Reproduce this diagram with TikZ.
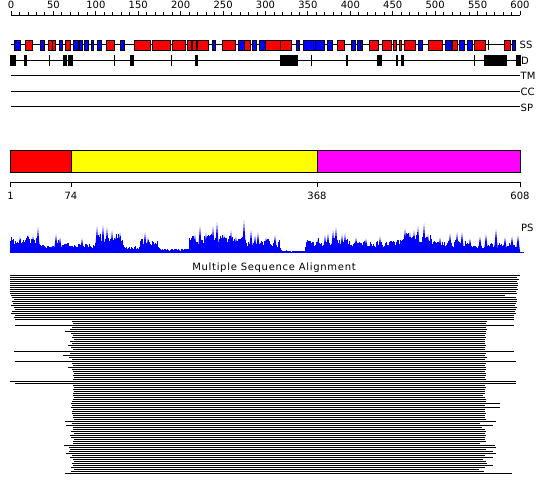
\documentclass[tikz,border=0pt]{standalone}
\usepackage{fontspec}
\setmainfont{DejaVu Sans}
\newfontfamily\msafont[LetterSpace=7]{DejaVu Sans}
\definecolor{cr}{RGB}{255,0,0}
\definecolor{cb}{RGB}{0,0,255}
\definecolor{cy}{RGB}{255,255,0}
\definecolor{cm}{RGB}{255,0,255}
\begin{document}
\begin{tikzpicture}[x=1pt,y=-1pt,
  lbl/.style={font=\fontsize{10}{12}\selectfont, inner sep=0pt},
  trk/.style={line width=0.9pt},
  sbox/.style={line width=0.8pt, draw=black},
  aln/.style={line width=1pt}]
\useasboundingbox (0,0) rectangle (550,495);
\fill[white] (0,0) rectangle (550,495);

% ---------- ruler ----------
\draw[trk] (11,15.5) -- (520,15.5);
\foreach \k in {0,...,60}{
  \pgfmathsetmacro{\xx}{11+\k*8.48333}
  \pgfmathtruncatemacro{\m}{mod(\k,5)}
  \pgfmathtruncatemacro{\v}{\k*10}
  \ifnum\m=0
    \draw[trk] (\xx,15.5) -- (\xx,11);
    \node[lbl,anchor=base] (rul\k) at (\xx,9) {\v};
  \else
    \draw[trk] (\xx,15.5) -- (\xx,12.5);
  \fi
}

% ---------- SS track ----------
\draw[trk] (11,44.5) -- (515,44.5);
\foreach \a/\b/\c in {14.3/20.7/cb, 25.7/32.3/cr, 40/44.3/cb, 48.3/52/cr, 52/55.7/cr,
  59/62.7/cb, 65.3/70.7/cr, 73.3/78/cb, 79/82.7/cb, 84.3/88.7/cb, 91/93.7/cb,
  97/101.7/cb, 106.7/114.7/cr, 120.3/124.7/cb, 134.3/150.3/cr, 152.3/170.7/cr,
  172.3/185.7/cr, 187.3/191/cr, 192.3/196/cr, 197.3/208.3/cr, 212.3/215.7/cb,
  222.3/235.7/cr, 238.3/244.3/cb, 244.3/250.7/cr, 252.3/256.7/cb, 259/265/cb,
  265/280/cr, 280/291/cr, 296.7/299.3/cb, 303.3/315/cb, 315/324.3/cb,
  327.3/332.3/cb, 337.7/344.3/cr, 351.7/355/cb, 357.7/362.3/cb, 369.7/378.3/cr,
  382.3/391/cr, 393.3/396.7/cr, 399/401/cr, 404.3/415/cr, 418.3/422.7/cb,
  428.3/442.3/cr, 445/451/cb, 452.3/457.3/cr, 459.3/464.3/cb, 467.7/472.3/cb,
  474.3/485.7/cr, 504/510.7/cr, 512.3/515/cb}{
  \draw[sbox, fill=\c] (\a,40) rectangle (\b,50);
}
\draw[trk] (360,40) -- (360,50);
\draw[trk] (488.7,40) -- (488.7,50);
\node[lbl,anchor=base west] (ss) at (519.5,48.5) {SS};

% ---------- D track ----------
\draw[trk] (10,60.5) -- (520,60.5);
\foreach \a/\b in {10/15.7, 24/26.7, 63/66.7, 68.3/72.7, 130/134.3, 195/198,
  280/297.7, 346/348.3, 376.7/381.7, 396/397.7, 400.7/404.3, 484.3/507.3, 515.7/520.7}{
  \fill[black] (\a,55) rectangle (\b,66);
}
\foreach \a in {49.8, 114.5, 171.8, 311, 474.3}{
  \draw[trk] (\a,55) -- (\a,66);
}
\node[lbl,anchor=base west] (dd) at (521,64.5) {D};

% ---------- TM CC SP ----------
\draw[trk] (10.5,75.5) -- (520,75.5);
\node[lbl,anchor=base west] (tm) at (520.5,80) {TM};
\draw[trk] (10.5,91.5) -- (520,91.5);
\node[lbl,anchor=base west] (cc) at (520.5,95.7) {CC};
\draw[trk] (10.5,106.5) -- (520,106.5);
\node[lbl,anchor=base west] (sp) at (520.5,111.5) {SP};

% ---------- domains ----------
\draw[sbox, fill=cr] (10.5,150.5) rectangle (71,172);
\draw[sbox, fill=cy] (71,150.5) rectangle (317,172);
\draw[sbox, fill=cm] (317,150.5) rectangle (520,172);
\draw[trk] (10.5,182.5) -- (520,182.5);
\foreach \x/\t/\n in {10.5/1/d1, 71/74/d2, 317/368/d3, 520/608/d4}{
  \draw[trk] (\x,182.5) -- (\x,187.5);
  \node[lbl,anchor=base] (\n) at (\x,200) {\t};
}

% ---------- PS profile ----------
\pgfmathsetseed{11}
\xdef\prevh{8}
\foreach \a/\b/\base/\amp in {10/38/6/12, 38/40/8/8, 40/56/4/6, 56/60/7/8, 60/95/4/7,
  95/123/8/14, 123/140/2/5, 140/158/6/9, 158/189/1.5/3, 189/245/7/13, 245/280/5/10,
  280/305/0.5/2, 305/350/5/12, 350/400/5/8, 400/431/8/14, 431/466/5/9, 466/519/4/7}{
  \pgfmathtruncatemacro{\bb}{\b-1}
  \foreach \x in {\a,...,\bb}{
    \pgfmathsetmacro{\h}{0.35*\prevh+0.65*(\base+\amp*rnd)}
    \xdef\prevh{\h}
    \fill[cb] (\x,252.5) rectangle ({\x+1.1},{252.5-\h});
  }
}
\foreach \x/\h in {38/25, 56/18, 97/26, 103/27, 107/25, 112/22, 120/20, 145/20,
  200/26, 213/26, 217/30, 244/32, 251/22, 258/20, 275/17, 328/19, 333/22, 336/25,
  345/19, 405/24, 418/26, 424/29, 457/20, 462/20, 496/23, 518/17,
  20/16, 28/18, 33/17, 60/15, 82/14, 100/20, 116/17, 148/15, 195/18, 206/20, 224/18,
  231/22, 236/16, 255/17, 266/15, 318/14, 325/17, 342/18, 356/15, 366/14, 380/16,
  410/20, 414/22, 428/18, 440/15, 450/19, 470/14, 480/16, 486/18, 505/15, 512/16}{
  \fill[cb] ({\x-2.2},252.5) -- (\x,{252.5-\h}) -- ({\x+2.2},252.5) -- cycle;
}
\draw[cb, line width=1pt] (10,252) -- (524,252);
\node[lbl,anchor=base west] (ps) at (521,231.5) {PS};

% ---------- alignment ----------
\node[lbl,anchor=base,font=\msafont\fontsize{10}{12}\selectfont] (msa) at (274,270) {Multiple Sequence Alignment};
\foreach \y/\s/\e in {
  275/10/520, 277/10/517, 279/10/519, 281/10/517, 283/10/518, 285/10/518, 287/10/517,
  289/10/518, 291/10/516, 293/10/517, 295/11/505, 297/12/516, 299/14/517, 301/12/517,
  303/13/516, 305/11/515, 307/14/517, 309/15/516, 311/12/515, 313/11/516, 315/15/514,
  317/14/514, 319/15/514, 321/72/487, 323/73/486, 325/15/514, 327/72/486, 329/70/487,
  331/65/486, 333/71/486, 335/73/485, 337/72/486, 339/74/485, 341/70/485, 343/72/485,
  345/68/486, 347/71/485, 349/73/485, 351/14/514, 353/70/486, 355/63/485, 357/69/487,
  359/72/485, 361/15/516, 363/72/486, 365/73/485, 367/68/486, 369/72/486, 371/73/485,
  373/74/486, 375/73/486, 377/74/485, 379/73/486, 381/10/516, 383/15/516, 385/73/485,
  387/74/486, 389/73/485, 391/74/485, 393/73/485, 395/73/483, 397/74/485, 399/73/486,
  401/72/486, 403/71/500, 405/72/485, 407/71/500, 409/73/485, 411/72/485, 413/72/486,
  415/73/485, 417/73/485, 419/74/486, 421/65/496, 423/72/480, 425/66/493, 427/73/482,
  429/73/485, 431/71/486, 433/74/485, 435/70/486, 437/71/485, 439/74/485, 441/73/486,
  443/73/480, 445/64/495, 447/69/496, 449/70/486, 451/69/493, 453/66/496, 455/72/485,
  457/70/493, 459/73/483, 461/74/486, 463/72/487, 465/73/493, 467/71/485, 469/74/479,
  471/71/484, 473/65/512}{
  \draw[aln] (\s,\y+0.5) -- (\e,\y+0.5);
}
\end{tikzpicture}
\end{document}
